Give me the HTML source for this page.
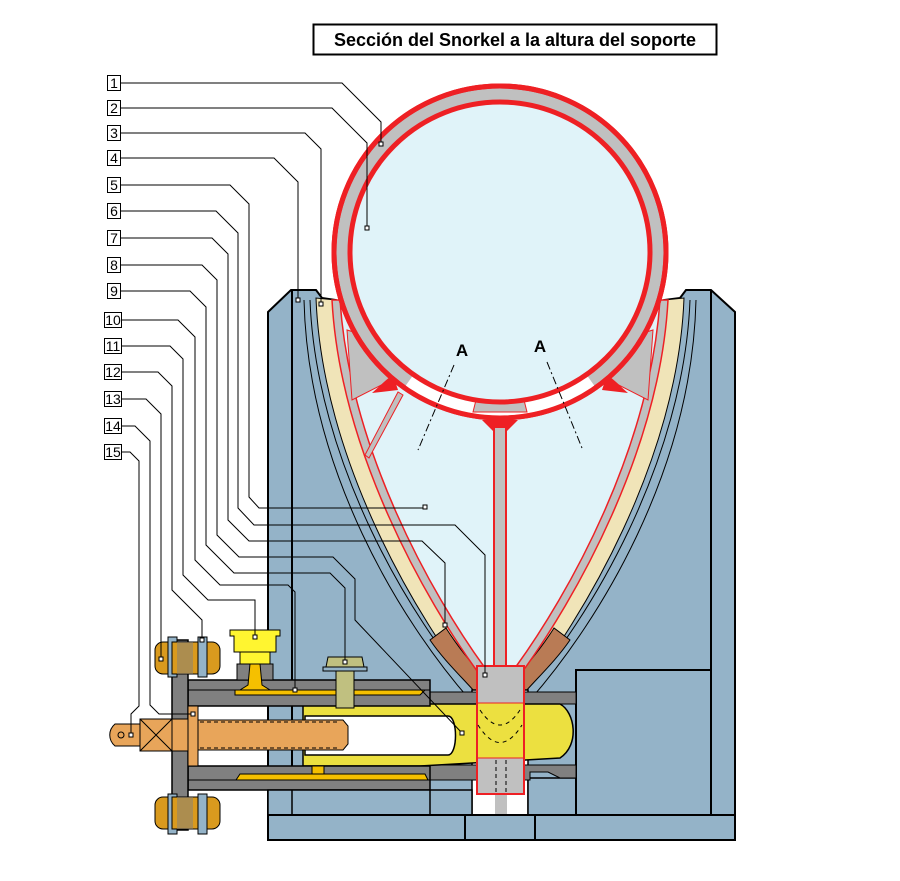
<!DOCTYPE html>
<html><head><meta charset="utf-8"><style>
html,body{margin:0;padding:0;background:#fff;}
svg{display:block;}
text{font-family:"Liberation Sans",Arial,sans-serif;}
</style></head><body>
<svg width="900" height="881" viewBox="0 0 900 881" xmlns="http://www.w3.org/2000/svg">
<rect x="313.5" y="24.5" width="403" height="30" fill="#fff" stroke="#000" stroke-width="2"/>
<text x="515" y="46" font-size="18" font-weight="bold" text-anchor="middle">Sección del Snorkel a la altura del soporte</text>

<path d="M268,312 L291,290 L316,290 L322,298 L336,300 L500,680 L664,300 L680,298 L686,290 L711,290 L735,312 L735,815 L268,815 Z" fill="#94b3c8" stroke="#000" stroke-width="2"/>
<line x1="292" y1="290" x2="292" y2="815" stroke="#000" stroke-width="2"/>
<line x1="711" y1="290" x2="711" y2="815" stroke="#000" stroke-width="2"/>
<path d="M304,300 C308,470 400,620 470,700" fill="none" stroke="#000" stroke-width="1"/>
<path d="M310,300 C316,460 410,620 478,695" fill="none" stroke="#000" stroke-width="1"/>
<path d="M696,300 C692,470 600,620 530,700" fill="none" stroke="#000" stroke-width="1"/>
<path d="M690,300 C684,460 590,620 522,695" fill="none" stroke="#000" stroke-width="1"/>
<path d="M316,298 C322,460 418,620 478,695 L522,695 C582,620 678,460 684,298 L664,300 L336,300 Z" fill="#f0e4b8" stroke="#000" stroke-width="1"/>
<path d="M430,640 L446,628 C460,650 475,668 490,682 L482,700 C465,680 445,662 430,640 Z" fill="#b97b55" stroke="#000" stroke-width="1"/>
<path d="M570,640 L554,628 C540,650 525,668 510,682 L518,700 C535,680 555,662 570,640 Z" fill="#b97b55" stroke="#000" stroke-width="1"/>
<path d="M332,300 C340,450 425,600 480,675 L520,675 C575,600 660,450 668,300 Z" fill="#c0c0c0" stroke="#ee2024" stroke-width="1.5"/>
<path d="M340,300 C350,450 432,595 485,668 L515,668 C568,595 650,450 660,300 Z" fill="#e0f3f9" stroke="#ee2024" stroke-width="1.5"/>
<path d="M347,330 L352,400 L395,378 L380,340 Z" fill="#c0c0c0" stroke="#ee2024" stroke-width="1"/>
<path d="M653,330 L648,400 L605,378 L620,340 Z" fill="#c0c0c0" stroke="#ee2024" stroke-width="1"/>
<path d="M398,392 L365,455 L369,458 L403,395 Z" fill="#c0c0c0" stroke="#ee2024" stroke-width="1"/>
<path d="M393,375 C385,380 378,388 372,393 L398,390 Z" fill="#ee2024"/>
<path d="M607,375 C615,380 622,388 628,393 L602,390 Z" fill="#ee2024"/>

<circle cx="500" cy="252" r="166" fill="#c0c0c0" stroke="#ee2024" stroke-width="5"/>
<path d="M409,381 A158,158 0 0,0 591,381" fill="none" stroke="#fff" stroke-width="12"/>
<path d="M473,412 L527,412 L524,400 L476,400 Z" fill="#c0c0c0" stroke="#ee2024" stroke-width="1"/>
<circle cx="500" cy="252" r="150" fill="#e0f3f9" stroke="#ee2024" stroke-width="5"/>
<circle cx="500" cy="252" r="166" fill="none" stroke="#ee2024" stroke-width="5"/>
<path d="M482,420 L518,420 L506,432 L494,432 Z" fill="#ee2024"/>
<rect x="494" y="427" width="12" height="242" fill="#c0c0c0" stroke="#ee2024" stroke-width="2"/>

<text x="462" y="356" font-size="17" font-weight="bold" text-anchor="middle">A</text>
<text x="540" y="352" font-size="17" font-weight="bold" text-anchor="middle">A</text>
<path d="M454,365 L418,450" stroke="#000" stroke-width="1" stroke-dasharray="8,3,2,3" fill="none"/>
<path d="M547,362 L582,448" stroke="#000" stroke-width="1" stroke-dasharray="8,3,2,3" fill="none"/>

<rect x="472" y="690" width="56" height="125" fill="#fff" stroke="#000" stroke-width="1.5"/>
<rect x="528" y="778" width="48" height="37" fill="#94b3c8" stroke="#000" stroke-width="1.5"/>
<rect x="576" y="670" width="135" height="145" fill="#94b3c8" stroke="#000" stroke-width="2"/>
<rect x="430" y="692" width="146" height="12" fill="#808080" stroke="#000" stroke-width="1"/>
<path d="M430,765 L576,765 L576,778 L560,778 L548,772 L530,772 L530,780 L430,780 Z" fill="#808080" stroke="#000" stroke-width="1"/>
<path d="M303,704 L560,704 C575,712 580,745 560,758 L420,766 L303,766 Z" fill="#ece040" stroke="#000" stroke-width="1.5"/>
<path d="M305,716 L448,716 C458,716 458,755 448,755 L305,755 Z" fill="#fff" stroke="#000" stroke-width="1.5"/>
<path d="M188,680 L430,680 L430,706 L188,706 Z" fill="#808080" stroke="#000" stroke-width="1.5"/>
<line x1="188" y1="690" x2="430" y2="690" stroke="#000" stroke-width="1"/>
<path d="M235,690 L425,690 L420,695 L235,695 Z" fill="#f5c000" stroke="#000" stroke-width="1"/>
<path d="M188,766 L430,766 L430,790 L188,790 Z" fill="#808080" stroke="#000" stroke-width="1.5"/>
<line x1="188" y1="780" x2="430" y2="780" stroke="#000" stroke-width="1"/>
<path d="M240,774 L425,774 L428,780 L236,780 Z" fill="#f5c000" stroke="#000" stroke-width="1"/>
<rect x="312" y="766" width="12" height="8" fill="#f5c000" stroke="#000" stroke-width="1"/>
<rect x="268" y="790" width="204" height="25" fill="#94b3c8" stroke="#000" stroke-width="1.5"/>
<line x1="292" y1="790" x2="292" y2="815" stroke="#000" stroke-width="1.5"/>
<line x1="430" y1="790" x2="430" y2="815" stroke="#000" stroke-width="1.5"/>
<rect x="477" y="666" width="47" height="37" fill="#c0c0c0"/>
<rect x="477" y="703" width="47" height="55" fill="#ece040"/>
<rect x="477" y="758" width="47" height="36" fill="#c0c0c0"/>
<rect x="495" y="794" width="12" height="21" fill="#c0c0c0"/>
<rect x="477" y="666" width="47" height="128" fill="none" stroke="#ee2024" stroke-width="2"/>
<line x1="477" y1="703" x2="524" y2="703" stroke="#ee2024" stroke-width="1"/>
<line x1="477" y1="758" x2="524" y2="758" stroke="#ee2024" stroke-width="1"/>
<path d="M480,710 Q500,740 520,710 M478,725 Q500,760 522,725" fill="none" stroke="#000" stroke-dasharray="4,4"/>
<line x1="496" y1="760" x2="496" y2="794" stroke="#000" stroke-dasharray="4,3"/>
<line x1="506" y1="760" x2="506" y2="794" stroke="#000" stroke-dasharray="4,3"/>
<rect x="268" y="815" width="467" height="25" fill="#94b3c8" stroke="#000" stroke-width="2"/>
<line x1="465" y1="815" x2="465" y2="840" stroke="#000" stroke-width="2"/>
<line x1="535" y1="815" x2="535" y2="840" stroke="#000" stroke-width="2"/>

<rect x="172" y="640" width="16" height="190" fill="#808080" stroke="#000" stroke-width="1.5"/>
<g fill="#d99a1e" stroke="#000" stroke-width="1">
<rect x="155" y="642" width="65" height="32" rx="8"/>
<rect x="155" y="797" width="65" height="32" rx="8"/>
</g>
<rect x="168" y="637" width="9" height="40" fill="#94b3c8" stroke="#000"/>
<rect x="198" y="637" width="9" height="40" fill="#94b3c8" stroke="#000"/>
<rect x="168" y="794" width="9" height="40" fill="#94b3c8" stroke="#000"/>
<rect x="198" y="794" width="9" height="40" fill="#94b3c8" stroke="#000"/>
<rect x="172" y="642" width="26" height="32" fill="#d99a1e" stroke="#000"/>
<rect x="172" y="797" width="26" height="32" fill="#d99a1e" stroke="#000"/>
<rect x="177" y="642" width="16" height="32" fill="#808080" opacity="0.5"/>
<rect x="177" y="797" width="16" height="32" fill="#808080" opacity="0.5"/>
<path d="M115,724 L140,724 L140,746 L115,746 C108,740 108,730 115,724 Z" fill="#e8a55a" stroke="#000"/>
<circle cx="121" cy="735" r="3" fill="none" stroke="#000"/>
<rect x="140" y="719" width="32" height="32" fill="#e8a55a" stroke="#000"/>
<path d="M140,719 L172,751 M172,719 L140,751" stroke="#000"/>
<rect x="172" y="719" width="16" height="32" fill="#e8a55a" stroke="#000"/>
<rect x="188" y="706" width="10" height="60" fill="#e8a55a" stroke="#000"/>
<path d="M198,720 L343,720 L348,726 L348,744 L343,750 L198,750 Z" fill="#e8a55a" stroke="#000"/>
<path d="M200,722 L340,722 M200,748 L340,748" stroke="#000" stroke-dasharray="4,3"/>
<path d="M230,630 L280,630 L280,636 L276,636 L276,652 L234,652 L234,636 L230,636 Z" fill="#fff530" stroke="#000"/>
<rect x="240" y="652" width="30" height="12" fill="#fff530" stroke="#000"/>
<rect x="237" y="664" width="36" height="16" fill="#808080" stroke="#000"/>
<path d="M250,664 L260,664 L262,685 L270,690 L240,690 L248,685 Z" fill="#f5c000" stroke="#000"/>
<path d="M328,657 L362,657 L364,667 L326,667 Z" fill="#c0c080" stroke="#000"/>
<rect x="323" y="667" width="44" height="4" fill="#94b3c8" stroke="#000"/>
<rect x="336" y="671" width="18" height="37" fill="#c0c080" stroke="#000"/>

<g font-size="14" text-anchor="middle" fill="#000">
<g fill="#fff" stroke="#000" stroke-width="1">
<rect x="107.5" y="75.5" width="13" height="15"/><rect x="107.5" y="100.5" width="13" height="15"/>
<rect x="107.5" y="125.5" width="13" height="15"/><rect x="107.5" y="150.5" width="13" height="15"/>
<rect x="107.5" y="177.5" width="13" height="15"/><rect x="107.5" y="203.5" width="13" height="15"/>
<rect x="107.5" y="230.5" width="13" height="15"/><rect x="107.5" y="257.5" width="13" height="15"/>
<rect x="107.5" y="283.5" width="13" height="15"/><rect x="104.5" y="312.5" width="17" height="15"/>
<rect x="104.5" y="338.5" width="17" height="15"/><rect x="104.5" y="364.5" width="17" height="15"/>
<rect x="104.5" y="391.5" width="17" height="15"/><rect x="104.5" y="418.5" width="17" height="15"/>
<rect x="104.5" y="444.5" width="17" height="15"/>
</g>
<text x="114" y="88">1</text><text x="114" y="113">2</text><text x="114" y="138">3</text>
<text x="114" y="163">4</text><text x="114" y="190">5</text><text x="114" y="216">6</text>
<text x="114" y="243">7</text><text x="114" y="270">8</text><text x="114" y="296">9</text>
<text x="113" y="325">10</text><text x="113" y="351">11</text><text x="113" y="377">12</text>
<text x="113" y="404">13</text><text x="113" y="431">14</text><text x="113" y="457">15</text>
</g>
<g fill="none" stroke="#000" stroke-width="1">
<path d="M121,83 H342 L381,122 V144"/>
<path d="M121,108 H332 L367,143 V228"/>
<path d="M121,133 H305 L321,149 V304"/>
<path d="M121,158 H274 L298,182 V302"/>
<path d="M121,185 H230 L249,204 V497 L259,508 H425"/>
<path d="M121,211 H216 L238,233 V508 L254,525 H455 L485,555 V675"/>
<path d="M121,238 H212 L228,254 V520 L249,541 H422 L445,563 V625"/>
<path d="M121,265 H202 L217,280 V535 L239,557 H333 L355,579 V620 L462,733"/>
<path d="M121,291 H190 L206,307 V545 L234,573 H330 L345,588 V662"/>
<path d="M121,320 H178 L195,337 V560 L220,585 H288 L295,592 V690"/>
<path d="M121,346 H170 L183,359 V575 L208,600 H255 V637"/>
<path d="M121,372 H158 L172,386 V590 L202,620 V640"/>
<path d="M121,399 H146 L161,414 V659"/>
<path d="M121,426 H135 L150,441 V705 L159,714 H193"/>
<path d="M121,452 H130 L139,461 V706 L131,714 V735"/>
</g>
<g fill="#fff" stroke="#000" stroke-width="1">
<rect x="379" y="142" width="4" height="4"/><rect x="365" y="226" width="4" height="4"/>
<rect x="319" y="302" width="4" height="4"/><rect x="296" y="298" width="4" height="4"/>
<rect x="423" y="505" width="4" height="4"/><rect x="483" y="673" width="4" height="4"/>
<rect x="443" y="623" width="4" height="4"/><rect x="460" y="731" width="4" height="4"/>
<rect x="343" y="660" width="4" height="4"/><rect x="293" y="688" width="4" height="4"/>
<rect x="253" y="635" width="4" height="4"/><rect x="200" y="638" width="4" height="4"/>
<rect x="159" y="657" width="4" height="4"/><rect x="191" y="712" width="4" height="4"/>
<rect x="129" y="733" width="4" height="4"/>
</g>
</svg>
</body></html>
